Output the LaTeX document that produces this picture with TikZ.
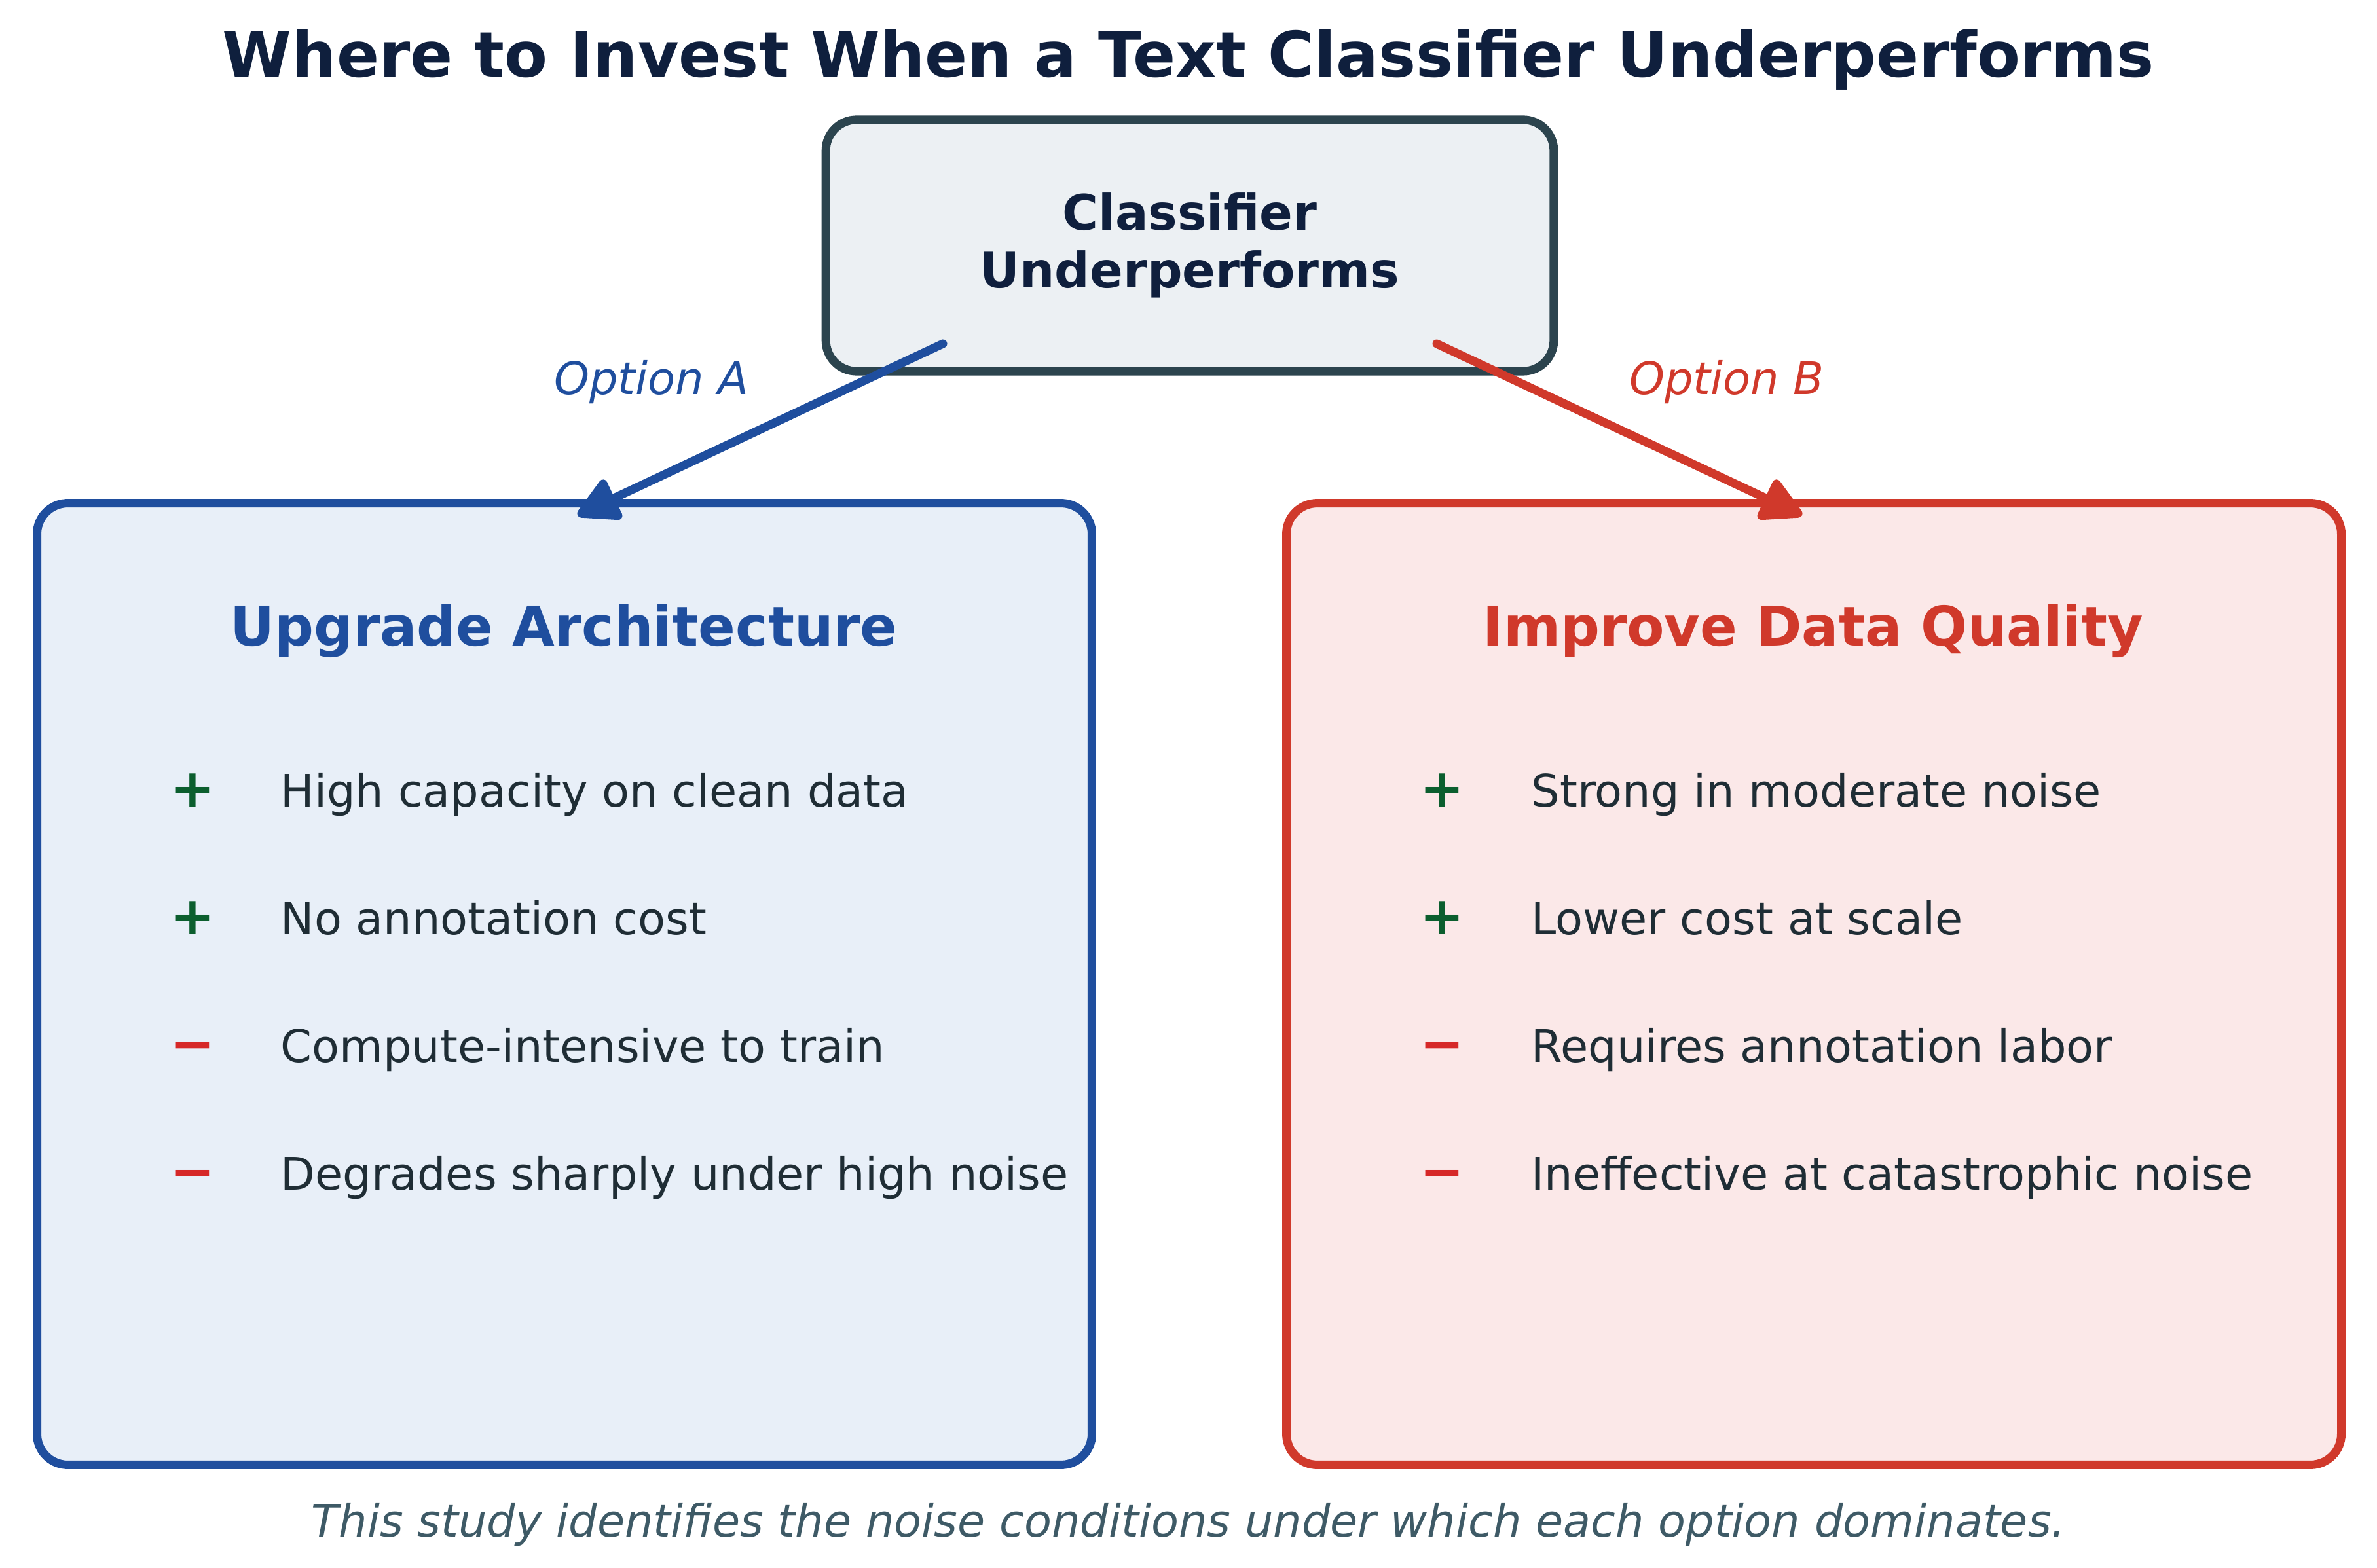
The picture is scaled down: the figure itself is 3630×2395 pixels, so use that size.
\documentclass[tikz,border=0pt]{standalone}
\usepackage{fontspec}
\setmainfont{DejaVu Sans}
\usetikzlibrary{arrows.meta}

\definecolor{titulo}{HTML}{0F1F3D}
\definecolor{gris}{HTML}{2C444E}
\definecolor{grisclaro}{HTML}{ECF0F3}
\definecolor{azul}{HTML}{1F4E9E}
\definecolor{azulclaro}{HTML}{E8EFF8}
\definecolor{rojo}{HTML}{D0392B}
\definecolor{rojoclaro}{HTML}{FBE8E8}
\definecolor{texto}{HTML}{1F2D35}
\definecolor{verde}{HTML}{0B5E2E}
\definecolor{menos}{HTML}{D62828}
\definecolor{pie}{HTML}{3E5A66}

\begin{document}
\begin{tikzpicture}[x=0.01cm, y=-0.01cm,
  topbox/.style={draw=gris, fill=grisclaro, line width=3.7pt, rounded corners=0.47cm,
    minimum width=11.11cm, minimum height=3.84cm, align=center, text=titulo,
    font=\bfseries\fontsize{21.3}{25}\selectfont},
  optbox/.style={line width=3.7pt, rounded corners=0.47cm, minimum width=16.1cm, minimum height=14.68cm},
  heading/.style={anchor=base, font=\bfseries\fontsize{23.8}{28}\selectfont},
  itemtxt/.style={anchor=base west, inner sep=0pt, text=texto, font=\fontsize{19.5}{23}\selectfont},
  pro/.style={anchor=base, inner sep=0pt, text=verde, font=\bfseries\fontsize{23}{27}\selectfont},
  con/.style={anchor=base, inner sep=0pt, text=menos, font=\bfseries\fontsize{23}{27}\selectfont},
  optlabel/.style={anchor=base, font=\itshape\fontsize{19.5}{23}\selectfont},
  flecha/.style={line width=3.7pt, line cap=round, -{Triangle[length=7mm, width=7.2mm, round]}}
]
\useasboundingbox (0,0) rectangle (3630,2395);

% Titulo
\node[anchor=base, text=titulo, font=\bfseries\fontsize{27.3}{33}\selectfont] (T) at (1815,118)
  {Where to Invest When a Text Classifier Underperforms};

% Caja superior
\node[topbox] (C) at (1817,375) {Classifier\\Underperforms};

% Cajas de opciones
\node[optbox, draw=azul, fill=azulclaro] (A) at (862,1503) {};
\node[optbox, draw=rojo, fill=rojoclaro] (B) at (2770,1503) {};

% Opcion A
\node[heading, text=azul] (HA) at (861,987) {Upgrade Architecture};
\node[pro] (PA1) at (294,1232) {+};
\node[pro] (PA2) at (294,1427) {+};
\node[con] (PA3) at (294,1622) {−};
\node[con] (PA4) at (294,1817) {−};
\node[itemtxt] (A1) at (428,1232) {High capacity on clean data};
\node[itemtxt] (A2) at (428,1427) {No annotation cost};
\node[itemtxt] (A3) at (428,1622) {Compute-intensive to train};
\node[itemtxt] (A4) at (428,1817) {Degrades sharply under high noise};

% Opcion B
\node[heading, text=rojo] (HB) at (2769,987) {Improve Data Quality};
\node[pro] (PB1) at (2202,1232) {+};
\node[pro] (PB2) at (2202,1427) {+};
\node[con] (PB3) at (2202,1622) {−};
\node[con] (PB4) at (2202,1817) {−};
\node[itemtxt] (B1) at (2338,1232) {Strong in moderate noise};
\node[itemtxt] (B2) at (2338,1427) {Lower cost at scale};
\node[itemtxt] (B3) at (2338,1622) {Requires annotation labor};
\node[itemtxt] (B4) at (2338,1817) {Ineffective at catastrophic noise};

% Flechas
\coordinate (sA) at (1440,525);
\coordinate (eA) at (882,787);
\coordinate (sB) at (2194,525);
\coordinate (eB) at (2752,787);
\draw[flecha, azul] (sA) -- (eA);
\draw[flecha, rojo] (sB) -- (eB);
\node[optlabel, text=azul] (LA) at (995,603) {Option A};
\node[optlabel, text=rojo] (LB) at (2637,603) {Option B};

% Pie
\node[anchor=base, text=pie, font=\itshape\fontsize{19.5}{23}\selectfont] (F) at (1815,2347)
  {This study identifies the noise conditions under which each option dominates.};

\end{tikzpicture}
\end{document}
